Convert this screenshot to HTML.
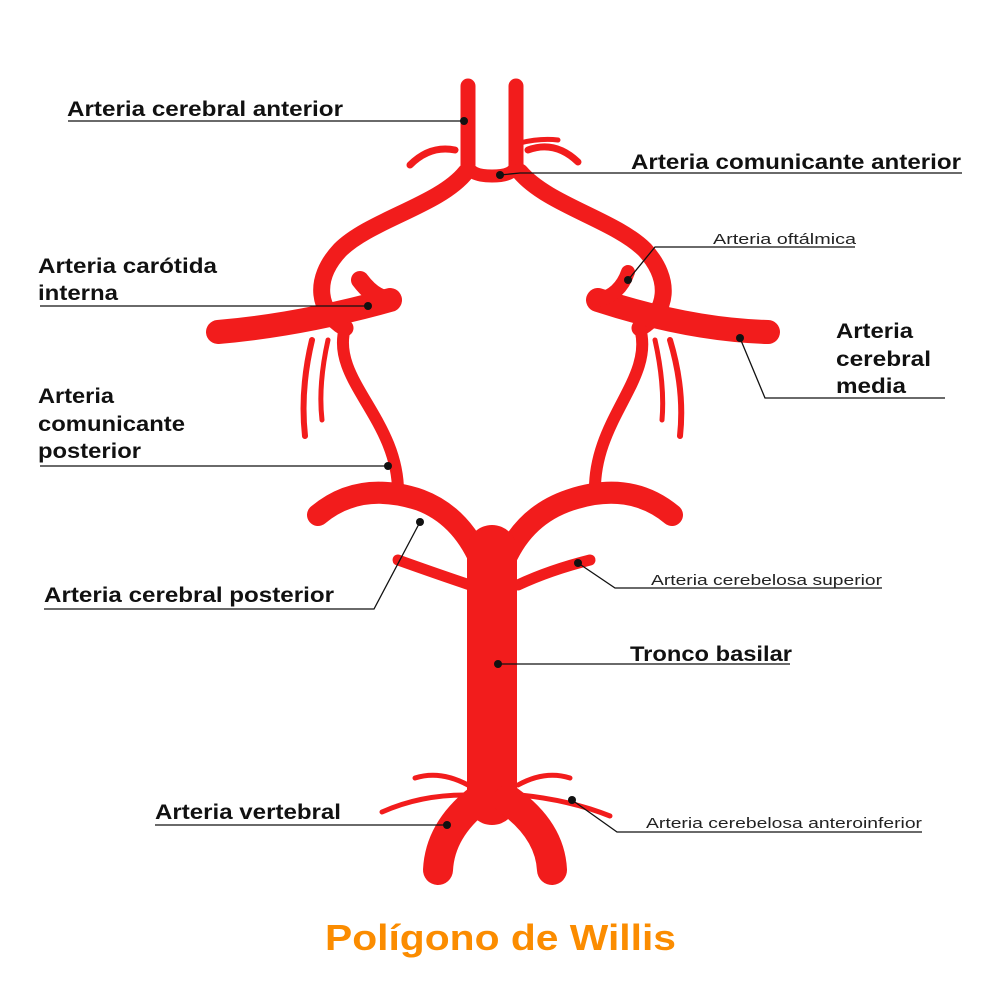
<!DOCTYPE html>
<html><head><meta charset="utf-8"><style>
html,body{margin:0;padding:0;background:#fff;}
svg{display:block;}
text{font-family:"Liberation Sans",sans-serif;}
.b{font-weight:bold;font-size:21px;fill:#111;}
.s{font-size:15px;fill:#222;}
</style></head><body>
<svg width="1000" height="1000" viewBox="0 0 1000 1000" xmlns="http://www.w3.org/2000/svg">
<g fill="none" stroke="#f21c1c" stroke-linecap="round" stroke-linejoin="round">
<path d="M468 86 L468 165" stroke-width="15"/>
<path d="M516 86 L516 165" stroke-width="15"/>
<path d="M468 165 Q470 176 492 176 Q514 176 516 165" stroke-width="13"/>
<path d="M455 150 Q430 145 410 165" stroke-width="7"/>
<path d="M528 150 Q555 140 578 162" stroke-width="7"/>
<path d="M520 143 Q540 138 558 140" stroke-width="5"/>
<path d="M466 172 C440 205 370 220 340 250 C312 280 318 312 345 328" stroke-width="17"/>
<path d="M520 172 C548 205 615 220 645 250 C672 280 668 312 640 328" stroke-width="17"/>
<path d="M218 332 Q300 325 390 300" stroke-width="24"/>
<path d="M360 280 Q375 300 392 300" stroke-width="18"/>
<path d="M768 332 Q690 330 598 300" stroke-width="24"/>
<path d="M628 272 Q620 295 598 300" stroke-width="14"/>
<path d="M312 340 Q300 390 305 436" stroke-width="6"/>
<path d="M328 340 Q318 385 322 420" stroke-width="5"/>
<path d="M670 340 Q685 390 680 436" stroke-width="6"/>
<path d="M655 340 Q665 385 662 420" stroke-width="5"/>
<path d="M345 328 C330 380 400 420 398 495" stroke-width="12"/>
<path d="M640 328 C655 380 592 420 595 495" stroke-width="12"/>
<path d="M318 515 Q360 480 420 500 Q460 515 480 560" stroke-width="22"/>
<path d="M672 515 Q630 480 570 500 Q525 515 505 560" stroke-width="22"/>
<path d="M398 560 Q440 575 470 585" stroke-width="11"/>
<path d="M590 560 Q550 570 518 585" stroke-width="11"/>
<path d="M492 550 L492 800" stroke-width="50"/>
<path d="M478 800 Q440 830 438 870" stroke-width="30"/>
<path d="M508 800 Q550 830 552 870" stroke-width="30"/>
<path d="M468 785 Q440 770 415 778" stroke-width="5"/>
<path d="M465 795 Q420 795 382 812" stroke-width="5"/>
<path d="M518 785 Q545 770 570 778" stroke-width="5"/>
<path d="M520 795 Q570 800 610 816" stroke-width="5"/>
</g>
<g stroke="#111" stroke-width="1.3" fill="none">
<path d="M68 121 H464"/>
<path d="M500 175 L520 173 H962"/>
<path d="M40 306 H368"/>
<path d="M855 247 H655 L628 280"/>
<path d="M740 338 L765 398 H945"/>
<path d="M40 466 H388"/>
<path d="M44 609 H374 L420 522"/>
<path d="M578 563 L615 588 H882"/>
<path d="M498 664 H790"/>
<path d="M155 825 H447"/>
<path d="M572 800 L617 832 H922"/>
</g>
<g fill="#111">
<circle cx="464" cy="121" r="4"/><circle cx="500" cy="175" r="4"/>
<circle cx="368" cy="306" r="4"/><circle cx="628" cy="280" r="4"/>
<circle cx="740" cy="338" r="4"/><circle cx="388" cy="466" r="4"/>
<circle cx="420" cy="522" r="4"/><circle cx="578" cy="563" r="4"/>
<circle cx="498" cy="664" r="4"/><circle cx="447" cy="825" r="4"/>
<circle cx="572" cy="800" r="4"/>
</g>
<text class="b" x="67" y="116" textLength="276" lengthAdjust="spacingAndGlyphs">Arteria cerebral anterior</text>
<text class="b" x="631" y="169" textLength="330" lengthAdjust="spacingAndGlyphs">Arteria comunicante anterior</text>
<text class="b" x="38" y="273" textLength="179" lengthAdjust="spacingAndGlyphs">Arteria carótida</text>
<text class="b" x="38" y="300" textLength="80" lengthAdjust="spacingAndGlyphs">interna</text>
<text class="s" x="713" y="244" textLength="143" lengthAdjust="spacingAndGlyphs">Arteria oftálmica</text>
<text class="b" x="836" y="338" textLength="77" lengthAdjust="spacingAndGlyphs">Arteria</text>
<text class="b" x="836" y="366" textLength="95" lengthAdjust="spacingAndGlyphs">cerebral</text>
<text class="b" x="836" y="393" textLength="70" lengthAdjust="spacingAndGlyphs">media</text>
<text class="b" x="38" y="403" textLength="76" lengthAdjust="spacingAndGlyphs">Arteria</text>
<text class="b" x="38" y="431" textLength="147" lengthAdjust="spacingAndGlyphs">comunicante</text>
<text class="b" x="38" y="458" textLength="103" lengthAdjust="spacingAndGlyphs">posterior</text>
<text class="b" x="44" y="602" textLength="290" lengthAdjust="spacingAndGlyphs">Arteria cerebral posterior</text>
<text class="s" x="651" y="585" textLength="231" lengthAdjust="spacingAndGlyphs">Arteria cerebelosa superior</text>
<text class="b" x="630" y="661" textLength="162" lengthAdjust="spacingAndGlyphs">Tronco basilar</text>
<text class="b" x="155" y="819" textLength="186" lengthAdjust="spacingAndGlyphs">Arteria vertebral</text>
<text class="s" x="646" y="828" textLength="276" lengthAdjust="spacingAndGlyphs">Arteria cerebelosa anteroinferior</text>
<text x="325" y="950" textLength="351" lengthAdjust="spacingAndGlyphs" style="font-weight:bold;font-size:36px;fill:#fb8c00">Polígono de Willis</text>
</svg>
</body></html>
